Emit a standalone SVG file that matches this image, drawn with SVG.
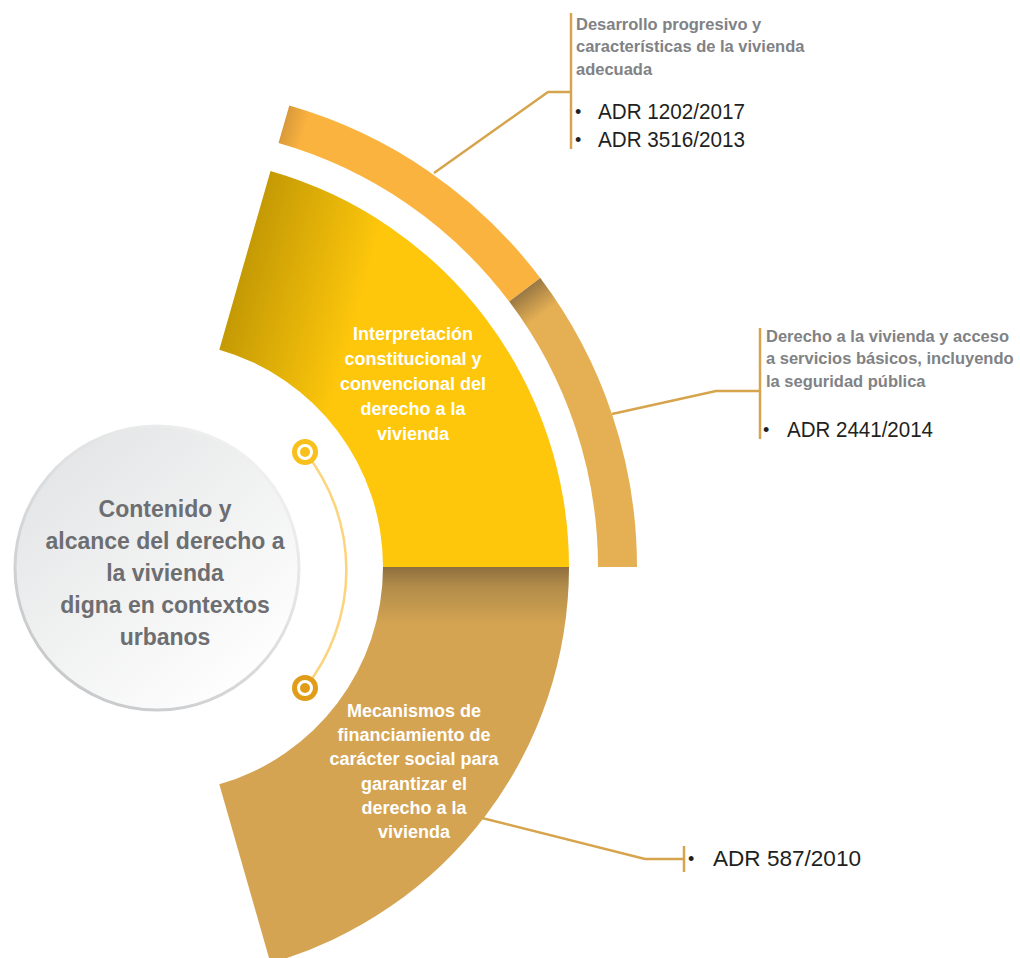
<svg xmlns="http://www.w3.org/2000/svg" width="1020" height="958" viewBox="0 0 1020 958">
<defs>
<linearGradient id="gTop" gradientUnits="userSpaceOnUse" x1="240" y1="262" x2="362" y2="296">
<stop offset="0" stop-color="#C29804"/><stop offset="1" stop-color="#FEC70C"/>
</linearGradient>
<linearGradient id="gBot" gradientUnits="userSpaceOnUse" x1="0" y1="567" x2="0" y2="625">
<stop offset="0" stop-color="#8D6E3E"/><stop offset="0.35" stop-color="#B38D4A"/><stop offset="1" stop-color="#D4A452"/>
</linearGradient>
<linearGradient id="gTan" gradientUnits="userSpaceOnUse" x1="524.7" y1="289.9" x2="542.8" y2="313.9">
<stop offset="0" stop-color="#9A7843"/><stop offset="1" stop-color="#E5B054"/>
</linearGradient>
<linearGradient id="gOr" gradientUnits="userSpaceOnUse" x1="283.9" y1="124.3" x2="305" y2="130.3">
<stop offset="0" stop-color="#D99A3A"/><stop offset="1" stop-color="#FBB33F"/>
</linearGradient>
<linearGradient id="gCirc" gradientUnits="userSpaceOnUse" x1="60" y1="450" x2="260" y2="690">
<stop offset="0" stop-color="#E4E5E6"/><stop offset="1" stop-color="#FFFFFF"/>
</linearGradient>
<linearGradient id="gCircS" gradientUnits="userSpaceOnUse" x1="60" y1="690" x2="260" y2="440">
<stop offset="0" stop-color="#C6C8CA"/><stop offset="1" stop-color="#F2F2F2"/>
</linearGradient>
<style>
.ctr{font-family:"Liberation Sans",Arial,sans-serif;font-weight:bold;font-size:23px;fill:#6D6E71;text-anchor:middle}
.sec{font-family:"Liberation Sans",Arial,sans-serif;font-weight:bold;font-size:18px;fill:#FFFFFF;text-anchor:middle}
.hd{font-family:"Liberation Sans",Arial,sans-serif;font-weight:bold;font-size:16.5px;fill:#808285}
.adr{font-family:"Liberation Sans",Arial,sans-serif;font-size:22.5px;fill:#231F20}
.bul{font-family:"Liberation Sans",Arial,sans-serif;font-size:18px;fill:#231F20}
.con{fill:none;stroke:#D6A44C;stroke-width:2.5}
</style>
</defs>
<rect width="1020" height="958" fill="#FFFFFF"/>

<g id="band-outer">
<path d="M 278.5 143.1 L 289.3 105.6 A 480 480 0 0 1 540.3 278.1 L 509.2 301.6 A 441 441 0 0 0 278.5 143.1 Z" fill="url(#gOr)"/>
<path d="M 509.2 301.6 L 540.3 278.1 A 480 480 0 0 1 637 567 L 598 567 A 441 441 0 0 0 509.2 301.6 Z" fill="url(#gTan)"/>
</g>

<g id="sector-top">
<path d="M 219.3 349.7 L 270.5 170.9 A 412 412 0 0 1 569 567 L 383 567 A 226 226 0 0 0 219.3 349.7 Z" fill="url(#gTop)"/>
<text class="sec" x="413" y="340">Interpretación</text>
<text class="sec" x="413" y="365">constitucional y</text>
<text class="sec" x="413" y="390">convencional del</text>
<text class="sec" x="413" y="415">derecho a la</text>
<text class="sec" x="413" y="440">vivienda</text>
</g>

<g id="sector-bottom">
<path d="M 383 567 L 569 567 A 412 412 0 0 1 270.5 963.1 L 219.3 784.3 A 226 226 0 0 0 383 567 Z" fill="url(#gBot)"/>
<text class="sec" x="414" y="717">Mecanismos de</text>
<text class="sec" x="414" y="741">financiamiento de</text>
<text class="sec" x="414" y="765">carácter social para</text>
<text class="sec" x="414" y="790">garantizar el</text>
<text class="sec" x="414" y="814">derecho a la</text>
<text class="sec" x="414" y="838">vivienda</text>
</g>

<g id="center-node">
<circle cx="157" cy="568" r="142" fill="url(#gCirc)" stroke="url(#gCircS)" stroke-width="3"/>
<text class="ctr" x="165" y="517">Contenido y</text>
<text class="ctr" x="165" y="549">alcance del derecho a</text>
<text class="ctr" x="165" y="581">la vivienda</text>
<text class="ctr" x="165" y="613">digna en contextos</text>
<text class="ctr" x="165" y="645">urbanos</text>
</g>

<g id="connectors">
<path d="M 305 452 A 189 189 0 0 1 305 688" fill="none" stroke="#FDD47E" stroke-width="2.5"/>
<path class="con" d="M 434 173 L 548 92 L 571 92"/>
<line class="con" x1="571" y1="13" x2="571" y2="149"/>
<path class="con" d="M 612 414 L 716 391 L 760 391"/>
<line class="con" x1="760" y1="328" x2="760" y2="439"/>
<path class="con" d="M 482 818 L 645 859 L 684 859"/>
<line class="con" x1="684" y1="846" x2="684" y2="872"/>
</g>

<g id="ring-top">
<circle cx="305" cy="452" r="10.5" fill="#FFFFFF" stroke="#F9BF1A" stroke-width="5"/>
<circle cx="305" cy="452" r="5" fill="#F9BF1A"/>
</g>
<g id="ring-bottom">
<circle cx="305" cy="688" r="10.5" fill="#FFFFFF" stroke="#E09D19" stroke-width="5"/>
<circle cx="305" cy="688" r="5" fill="#E09D19"/>
</g>

<g id="label-1">
<text class="hd" x="576" y="30">Desarrollo progresivo y</text>
<text class="hd" x="576" y="52">características de la vivienda</text>
<text class="hd" x="576" y="75">adecuada</text>
<text class="bul" x="575" y="118">•</text>
<text class="adr" x="598" y="119" textLength="147" lengthAdjust="spacingAndGlyphs">ADR 1202/2017</text>
<text class="bul" x="575" y="146">•</text>
<text class="adr" x="598" y="147" textLength="147" lengthAdjust="spacingAndGlyphs">ADR 3516/2013</text>
</g>

<g id="label-2">
<text class="hd" x="766" y="342">Derecho a la vivienda y acceso</text>
<text class="hd" x="766" y="364">a servicios básicos, incluyendo</text>
<text class="hd" x="766" y="387">la seguridad pública</text>
<text class="bul" x="763" y="436">•</text>
<text class="adr" x="787" y="437" textLength="146" lengthAdjust="spacingAndGlyphs">ADR 2441/2014</text>
</g>

<g id="label-3">
<text class="bul" x="688" y="865">•</text>
<text class="adr" x="713" y="866" textLength="148" lengthAdjust="spacingAndGlyphs">ADR 587/2010</text>
</g>
</svg>
